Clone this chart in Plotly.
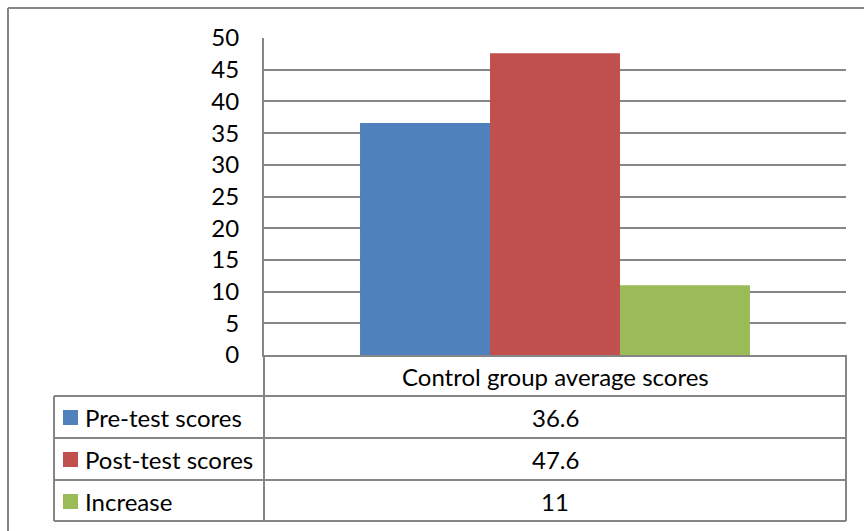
import plotly.graph_objects as go

categories = ["Control group average scores"]
series_names = ["Pre-test scores", "Post-test scores", "Increase"]
pre_test = [36.6]
post_test = [47.6]
increase = [11]
series_values = [pre_test, post_test, increase]
colors = ["#4F81BD", "#C0504D", "#9BBB59"]
tick_vals = [0, 5, 10, 15, 20, 25, 30, 35, 40, 45, 50]

W, H = 864, 531
FONT = "Lato"
FS = 24
GRAY = "#868686"


def px(x):
    return x / W


def py(y):
    return 1 - y / H


fig = go.Figure()
for name, vals, col in zip(series_names, series_values, colors):
    fig.add_trace(go.Bar(x=categories, y=vals, name=name, marker=dict(color=col, line=dict(width=0))))

shapes = []


def line(x0, y0, x1, y1, w=2):
    shapes.append(dict(type="line", xref="paper", yref="paper", x0=px(x0), y0=py(y0), x1=px(x1), y1=py(y1),
                       line=dict(color=GRAY, width=w)))


# outer chart border
line(8, 8, 870, 8)
line(8, 8, 8, 540)
# data table
line(264, 355, 264, 521)
line(846, 355, 846, 521)
line(54, 396, 846, 396)
line(54, 438, 846, 438)
line(54, 480, 846, 480)
line(54, 521, 846, 521)
line(54, 396, 54, 521)

annotations = []
annotations.append(dict(xref="paper", yref="paper", x=px(555), y=py(376), text=categories[0], showarrow=False,
                        xanchor="center", yanchor="middle", font=dict(family=FONT, size=FS, color="#000")))
row_centers = [417, 459, 501]
for i, (name, vals, col) in enumerate(zip(series_names, series_values, colors)):
    yc = row_centers[i]
    shapes.append(dict(type="rect", xref="paper", yref="paper", x0=px(63), x1=px(78), y0=py(yc - 7), y1=py(yc + 8),
                       fillcolor=col, line=dict(width=0)))
    annotations.append(dict(xref="paper", yref="paper", x=px(83), y=py(yc), text=name, showarrow=False,
                            xanchor="left", yanchor="middle", font=dict(family=FONT, size=FS, color="#000")))
    annotations.append(dict(xref="paper", yref="paper", x=px(555), y=py(yc), text=str(vals[0]), showarrow=False,
                            xanchor="center", yanchor="middle", font=dict(family=FONT, size=FS, color="#000")))

fig.update_layout(
    width=W, height=H,
    margin=dict(l=0, r=0, t=0, b=0, pad=0, autoexpand=False),
    paper_bgcolor="white", plot_bgcolor="white",
    showlegend=False,
    barmode="group", bargap=0.33, bargroupgap=0,
    shapes=shapes, annotations=annotations,
    xaxis=dict(domain=[px(264), px(846)], showticklabels=False, showgrid=False, automargin=False,
               showline=True, linecolor=GRAY, linewidth=2, mirror=False, zeroline=False),
    yaxis=dict(domain=[py(355), py(38)], range=[0, 50], tickvals=tick_vals, showgrid=True, gridcolor=GRAY,
               gridwidth=2, zeroline=False, showline=True, linecolor=GRAY, linewidth=2, automargin=False,
               tickfont=dict(family=FONT, size=FS, color="#000"), ticks="", ticklabelstandoff=18),
)

fig.write_html("out.html")
